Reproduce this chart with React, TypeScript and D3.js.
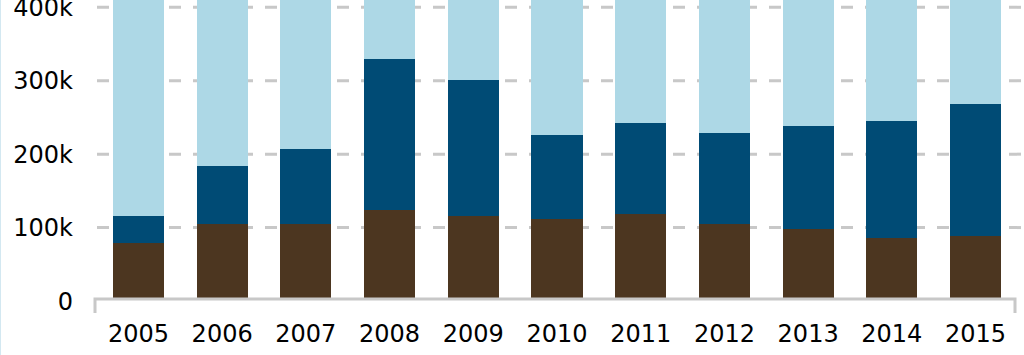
import { useEffect, useRef } from 'react';
import * as d3 from 'd3';

// years on the x axis
const years = ['2005', '2006', '2007', '2008', '2009', '2010', '2011', '2012', '2013', '2014', '2015'];
// bottom segment (brown)
const brownValues = [78600, 104900, 104900, 124400, 115400, 112100, 118100, 104900, 98500, 86200, 88600];
// middle segment (dark blue)
const navyValues = [36800, 78600, 101800, 205700, 185300, 114100, 124000, 124400, 140300, 159000, 179400];
// top segment (light blue), runs past the top of the view
const skyValues = [320000, 250000, 230000, 110000, 140000, 210000, 200000, 210000, 200000, 190000, 170000];
const yTicks = [0, 100000, 200000, 300000, 400000];

const keys = ['brown', 'navy', 'sky'];
const colors = { brown: '#4c3620', navy: '#004b75', sky: '#add8e6' };

const W = 1024;
const H = 355;

const App = () => {
  const svgRef = useRef<SVGSVGElement>(null);

  useEffect(() => {
    const svg = d3.select(svgRef.current);
    svg.selectAll('*').remove();

    const rows = years.map((year, i) => ({
      year,
      brown: brownValues[i],
      navy: navyValues[i],
      sky: skyValues[i],
    }));

    const x = d3.scaleBand().domain(years).range([97, 1017]).paddingInner(0.39).paddingOuter(0.19);
    const y = d3.scaleLinear().domain([0, 400000]).range([301, 7.3]);

    const axisY = y(0) - 2;
    const axisLeft = 95;
    const axisRight = 1015;

    // faint frame on the left edge
    svg.append('line')
      .attr('x1', 0.5).attr('x2', 0.5).attr('y1', 0).attr('y2', H)
      .attr('stroke', '#d3e8f1').attr('stroke-width', 1);

    // dashed gridlines
    svg.append('g')
      .selectAll('line')
      .data(yTicks.filter((t) => t > 0))
      .join('line')
      .attr('x1', 97)
      .attr('x2', 1021)
      .attr('y1', (d) => y(d))
      .attr('y2', (d) => y(d))
      .attr('stroke', '#c8c8c8')
      .attr('stroke-width', 3)
      .attr('stroke-dasharray', '12,12');

    // bars clipped to the plot so the top runs out of view
    svg.append('clipPath').attr('id', 'plot-clip')
      .append('rect').attr('x', 0).attr('y', 0).attr('width', W).attr('height', axisY);

    const stack = d3.stack().keys(keys)(rows as any);

    svg.append('g')
      .attr('clip-path', 'url(#plot-clip)')
      .attr('shape-rendering', 'crispEdges')
      .selectAll('g')
      .data(stack)
      .join('g')
      .attr('fill', (s) => colors[s.key])
      .selectAll('rect')
      .data((s) => s)
      .join('rect')
      .attr('x', (d: any) => x(d.data.year))
      .attr('width', x.bandwidth())
      .attr('y', (d) => y(d[1]))
      .attr('height', (d) => y(d[0]) - y(d[1]));

    // x axis line with end ticks
    svg.append('path')
      .attr('d', `M${axisLeft},313V${axisY}H${axisRight}V313`)
      .attr('fill', 'none')
      .attr('stroke', '#c8c8c8')
      .attr('stroke-width', 3);

    // y tick labels
    svg.append('g')
      .selectAll('text')
      .data(yTicks)
      .join('text')
      .attr('x', 73)
      .attr('y', (d) => y(d))
      .attr('dy', '0.36em')
      .attr('text-anchor', 'end')
      .style('font', '24px "DejaVu Sans", sans-serif')
      .attr('fill', '#000')
      .text((d) => (d === 0 ? '0' : `${d / 1000}k`));

    // x tick labels
    svg.append('g')
      .selectAll('text')
      .data(years)
      .join('text')
      .attr('x', (d) => x(d)! + x.bandwidth() / 2)
      .attr('y', 341.5)
      .attr('text-anchor', 'middle')
      .style('font', '24px "DejaVu Sans", sans-serif')
      .attr('fill', '#000')
      .text((d) => d);
  }, []);

  return (
    <svg
      ref={svgRef}
      width={W}
      height={H}
      style={{ position: 'fixed', left: 0, top: 0, background: '#fff', display: 'block' }}
    />
  );
};

export default App;
